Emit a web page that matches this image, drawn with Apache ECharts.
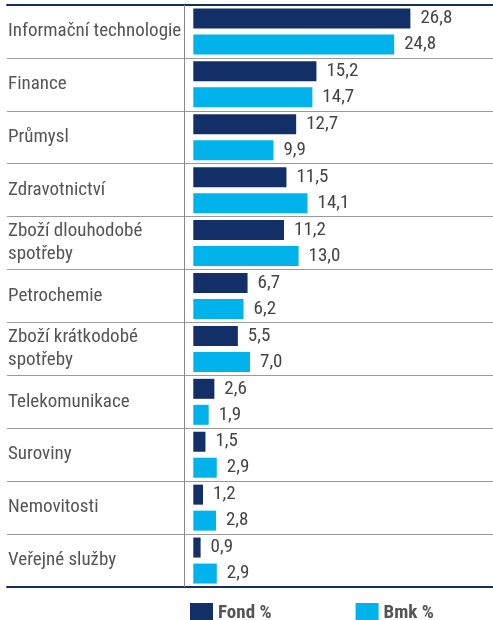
<!DOCTYPE html>
<html>
<head>
<meta charset="utf-8">
<script src="https://cdn.jsdelivr.net/npm/echarts@6/dist/echarts.min.js"></script>
<style>
  html, body { margin: 0; padding: 0; background: #fff; }
  #chart { width: 493px; height: 620px; }
</style>
</head>
<body>
<div id="chart"></div>
<script>
var categories = [
    'Informační technologie',
    'Finance',
    'Průmysl',
    'Zdravotnictví',
    'Zboží dlouhodobé\nspotřeby',
    'Petrochemie',
    'Zboží krátkodobé\nspotřeby',
    'Telekomunikace',
    'Suroviny',
    'Nemovitosti',
    'Veřejné služby'
];
var fondValues = [26.8, 15.2, 12.7, 11.5, 11.2, 6.7, 5.5, 2.6, 1.5, 1.2, 0.9];
var bmkValues = [24.8, 14.7, 9.9, 14.1, 13.0, 6.2, 7.0, 1.9, 2.9, 2.8, 2.9];
var seriesNames = ['Fond %', 'Bmk %'];

var navy = '#132f68';
var cyan = '#00b4eb';
var font = '"Liberation Sans Narrow", "Roboto Condensed", Roboto, sans-serif';

var myChart = echarts.init(document.getElementById('chart'));

function fmt(p) {
    return p.value.toFixed(1).replace('.', ',');
}

var valueLabel = {
    show: true,
    position: 'right',
    distance: 10,
    formatter: fmt,
    color: '#444',
    fontSize: 19,
    fontFamily: font
};

var option = {
    animation: false,
    legend: {
        data: seriesNames,
        left: 185,
        top: 598,
        itemWidth: 23,
        itemHeight: 20,
        itemGap: 84,
        icon: 'rect',
        textStyle: { color: '#555', fontSize: 19, fontWeight: 'bold', fontFamily: font }
    },
    grid: { left: 7, right: 0, top: 5, bottom: 33 },
    xAxis: [{
        type: 'value',
        min: -23,
        max: 37,
        position: 'bottom',
        axisLine: { show: true, onZero: false, lineStyle: { color: navy, width: 2 } },
        axisTick: { show: false },
        axisLabel: { show: false },
        splitLine: { show: false }
    }, {
        type: 'value',
        min: -23,
        max: 37,
        position: 'top',
        axisLine: { show: true, onZero: false, lineStyle: { color: navy, width: 2 } },
        axisTick: { show: false },
        axisLabel: { show: false },
        splitLine: { show: false }
    }],
    yAxis: {
        type: 'category',
        data: categories,
        inverse: true,
        axisLine: { show: false },
        axisTick: { show: false },
        splitLine: { show: true, lineStyle: { color: '#999', width: 1 } },
        axisLabel: {
            inside: true,
            margin: 1,
            color: '#555',
            fontSize: 19,
            lineHeight: 23,
            fontFamily: font
        }
    },
    series: [{
        name: seriesNames[0],
        type: 'bar',
        data: fondValues,
        barWidth: 20,
        barGap: '30%',
        itemStyle: { color: navy },
        label: valueLabel,
        markLine: {
            silent: true,
            symbol: 'none',
            label: { show: false },
            lineStyle: { color: '#888', width: 1, type: 'solid' },
            data: [{ xAxis: -1.15 }]
        }
    }, {
        name: seriesNames[1],
        type: 'bar',
        data: bmkValues,
        barWidth: 20,
        itemStyle: { color: cyan },
        label: valueLabel
    }]
};

myChart.setOption(option);
window.addEventListener('resize', function () {
    myChart.resize();
});
</script>
</body>
</html>
